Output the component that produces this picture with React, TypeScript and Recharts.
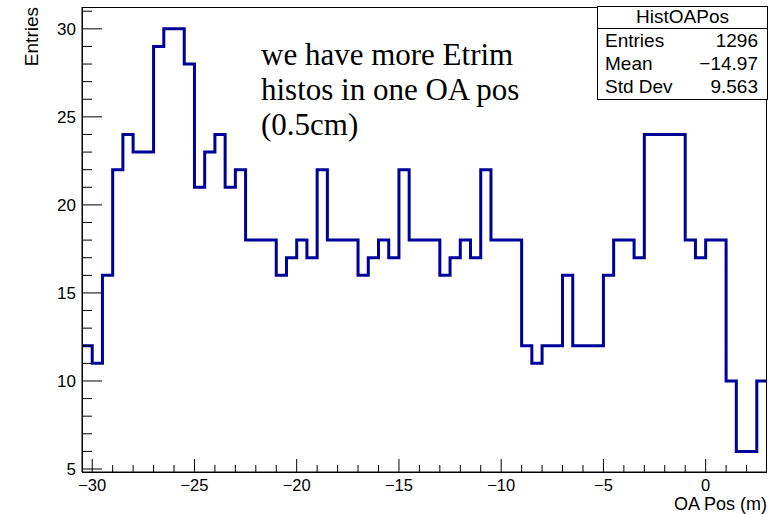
import React from "react";
import { ComposedChart, Line, XAxis, YAxis } from "recharts";

// ---- data ----
const X_MIN = -30.5;
const X_MAX = 3;
const BIN_WIDTH = 0.5;
const counts: number[] = [
  12, 11, 16, 22, 24, 23, 23, 29, 30, 30, 28, 21, 23, 24, 21, 22,
  18, 18, 18, 16, 17, 18, 17, 22, 18, 18, 18, 16, 17, 18, 17, 22,
  18, 18, 18, 16, 17, 18, 17, 22, 18, 18, 18, 12, 11, 12, 12, 16,
  12, 12, 12, 16, 18, 18, 17, 24, 24, 24, 24, 18, 17, 18, 18,
  10, 6, 6, 10,
];
const xTicks: number[] = [
  -30, -29, -28, -27, -26, -25, -24, -23, -22, -21, -20, -19, -18, -17, -16,
  -15, -14, -13, -12, -11, -10, -9, -8, -7, -6, -5, -4, -3, -2, -1, 0, 1, 2,
];
const yTicks: number[] = [
  5, 6, 7, 8, 9, 10, 11, 12, 13, 14, 15, 16, 17, 18, 19, 20, 21, 22, 23, 24,
  25, 26, 27, 28, 29, 30, 31,
];
const Y_DOMAIN: [number, number] = [4.83, 31.24];
const statsTitle = "HistOAPos";
const statsRows: [string, string][] = [
  ["Entries", "1296"],
  ["Mean", "\u221214.97"],
  ["Std Dev", "9.563"],
];
const noteLines = ["we have more Etrim", "histos in one OA pos", "(0.5cm)"];

// histogram as step points at bin low edges, plus closing point at upper edge
const histData = counts
  .map((c, i) => ({ x: X_MIN + i * BIN_WIDTH, v: c }))
  .concat([{ x: X_MAX, v: counts[counts.length - 1] }]);

// ---- layout ----
const W = 775;
const H = 514;
const LEFT = 82;
const TOP = 7;
const RIGHT_M = 8;
const XAXIS_H = 42;
const PLOT_R = W - RIGHT_M;
const PLOT_B = H - XAXIS_H;
const SANS = "'Liberation Sans', Arial, Helvetica, sans-serif";
const SERIF = "'Liberation Serif', 'Times New Roman', serif";

const fmt = (v: number) => (v < 0 ? "\u2212" + Math.abs(v) : String(v));

const XTick = (props: any) => {
  const { x, y, payload } = props;
  const v = payload.value as number;
  const major = v % 5 === 0;
  return (
    <g>
      <line x1={x} x2={x} y1={y} y2={y - (major ? 13 : 7)} stroke="#000" strokeWidth={1} />
      {major && (
        <text x={x} y={y + 19} textAnchor="middle" fontSize={16.5} fontFamily={SANS} fill="#000">
          {fmt(v)}
        </text>
      )}
    </g>
  );
};

const YTick = (props: any) => {
  const { x, y, payload } = props;
  const v = payload.value as number;
  const major = v % 5 === 0;
  return (
    <g>
      <line x1={x} x2={x + (major ? 20 : 10)} y1={y} y2={y} stroke="#000" strokeWidth={1} />
      {major && (
        <text x={x - 6} y={y + 6} textAnchor="end" fontSize={17} fontFamily={SANS} fill="#000">
          {fmt(v)}
        </text>
      )}
    </g>
  );
};

export default function App() {
  return (
    <div style={{ position: "absolute", left: 0, top: 0, width: W, height: H, background: "#fff" }}>
      <ComposedChart
        width={W}
        height={H}
        data={histData}
        margin={{ top: TOP, right: RIGHT_M, bottom: 0, left: 0 }}
      >
        <XAxis
          dataKey="x"
          type="number"
          domain={[X_MIN, X_MAX]}
          ticks={xTicks}
          allowDataOverflow
          height={XAXIS_H}
          tickSize={0}
          tickMargin={0}
          tickLine={false}
          axisLine={{ stroke: "#000", strokeWidth: 1 }}
          tick={<XTick />}
          interval={0}
        />
        <YAxis
          type="number"
          domain={Y_DOMAIN}
          ticks={yTicks}
          allowDataOverflow
          width={LEFT}
          tickSize={0}
          tickMargin={0}
          tickLine={false}
          axisLine={{ stroke: "#000", strokeWidth: 1 }}
          tick={<YTick />}
          interval={0}
        />
        <Line
          dataKey="v"
          type="stepAfter"
          stroke="#000099"
          strokeWidth={3}
          dot={false}
          activeDot={false}
          isAnimationActive={false}
          strokeLinejoin="miter"
        />
      </ComposedChart>
      <svg
        width={W}
        height={H}
        style={{ position: "absolute", left: 0, top: 0, pointerEvents: "none" }}
      >
        <rect
          x={LEFT + 0.5}
          y={TOP + 0.5}
          width={PLOT_R - LEFT - 1}
          height={PLOT_B - TOP}
          fill="none"
          stroke="#000"
          strokeWidth={1}
        />
        <text
          x={38}
          y={TOP}
          transform={`rotate(-90, 38, ${TOP})`}
          textAnchor="end"
          fontSize={19}
          fontFamily={SANS}
          fill="#000"
        >
          Entries
        </text>
        <text x={PLOT_R} y={510} textAnchor="end" fontSize={18} fontFamily={SANS} fill="#000">
          OA Pos (m)
        </text>
        {noteLines.map((t, i) => (
          <text key={t} x={261} y={65 + i * 35} fontSize={31} fontFamily={SERIF} fill="#000">
            {t}
          </text>
        ))}
        <g>
          <rect x={597.5} y={6.5} width={170} height={93} fill="#fff" stroke="#000" strokeWidth={1} />
          <line x1={597.5} x2={767.5} y1={28.5} y2={28.5} stroke="#000" strokeWidth={1} />
          <text x={682.5} y={23} textAnchor="middle" fontSize={19} fontFamily={SANS} fill="#000">
            {statsTitle}
          </text>
          {statsRows.map(([k, val], i) => (
            <g key={k}>
              <text x={605} y={47 + i * 23} fontSize={19} fontFamily={SANS} fill="#000">
                {k}
              </text>
              <text x={758} y={47 + i * 23} textAnchor="end" fontSize={19} fontFamily={SANS} fill="#000">
                {val}
              </text>
            </g>
          ))}
        </g>
      </svg>
    </div>
  );
}
